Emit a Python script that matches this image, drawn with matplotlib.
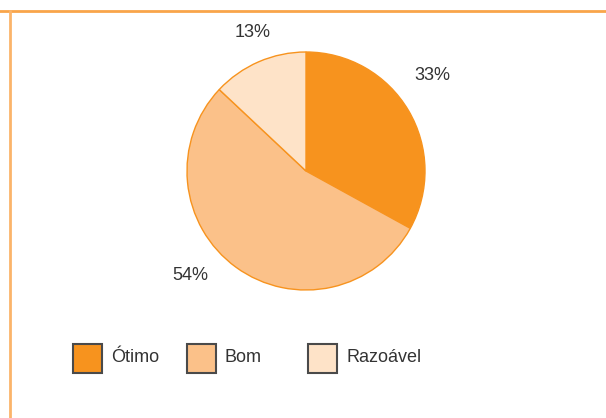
import numpy as np
import matplotlib.pyplot as plt
from matplotlib.patches import Rectangle
from matplotlib.lines import Line2D

categories = ['Ótimo', 'Bom', 'Razoável']
values = [33, 54, 13]
labels = ['33%', '54%', '13%']
colors = ['#F7931E', '#FBC189', '#FEE3C8']

plt.rcParams['font.family'] = ['Liberation Sans', 'DejaVu Sans']

W, H = 606, 418
fig = plt.figure(figsize=(W / 100, H / 100), dpi=100)
ax = fig.add_axes([0, 0, 1, 1])
ax.set_xlim(0, W)
ax.set_ylim(0, H)
ax.set_aspect('equal')
ax.axis('off')

# frame lines at top and left
fig.add_artist(Line2D([0, 1], [1 - 11 / H, 1 - 11 / H], color='#F9A54A', lw=2))
fig.add_artist(Line2D([10 / W, 10 / W], [0, 1 - 11 / H], color='#FBB46A', lw=2))

cx, cy, r = 306, H - 171, 119
wedges, _ = ax.pie(values, colors=colors, startangle=90, counterclock=False,
                   center=(cx, cy), radius=r, frame=True,
                   wedgeprops=dict(edgecolor='#F7931E', linewidth=1))
ax.set_xlim(0, W)
ax.set_ylim(0, H)
ax.axis('off')

# percentage labels outside the wedges
nudge = [6.5, -12, -2.5]
dist = [1.33, 1.31, 1.25]
for w, lab, dn, d in zip(wedges, labels, nudge, dist):
    ang = np.deg2rad((w.theta1 + w.theta2) / 2 + dn)
    ax.text(cx + d * r * np.cos(ang), cy + d * r * np.sin(ang), lab,
            ha='center', va='center', fontsize=13, color='#333333')

# legend
leg_x = [73, 187, 308]
for x, c, name in zip(leg_x, colors, categories):
    ax.add_patch(Rectangle((x, H - 373), 29, 29, facecolor=c,
                           edgecolor='#4a4a4a', lw=1.5))
    ax.text(x + 38, H - 358, name, ha='left', va='center',
            fontsize=13, color='#333333')

fig.savefig('out.png', dpi=100)
